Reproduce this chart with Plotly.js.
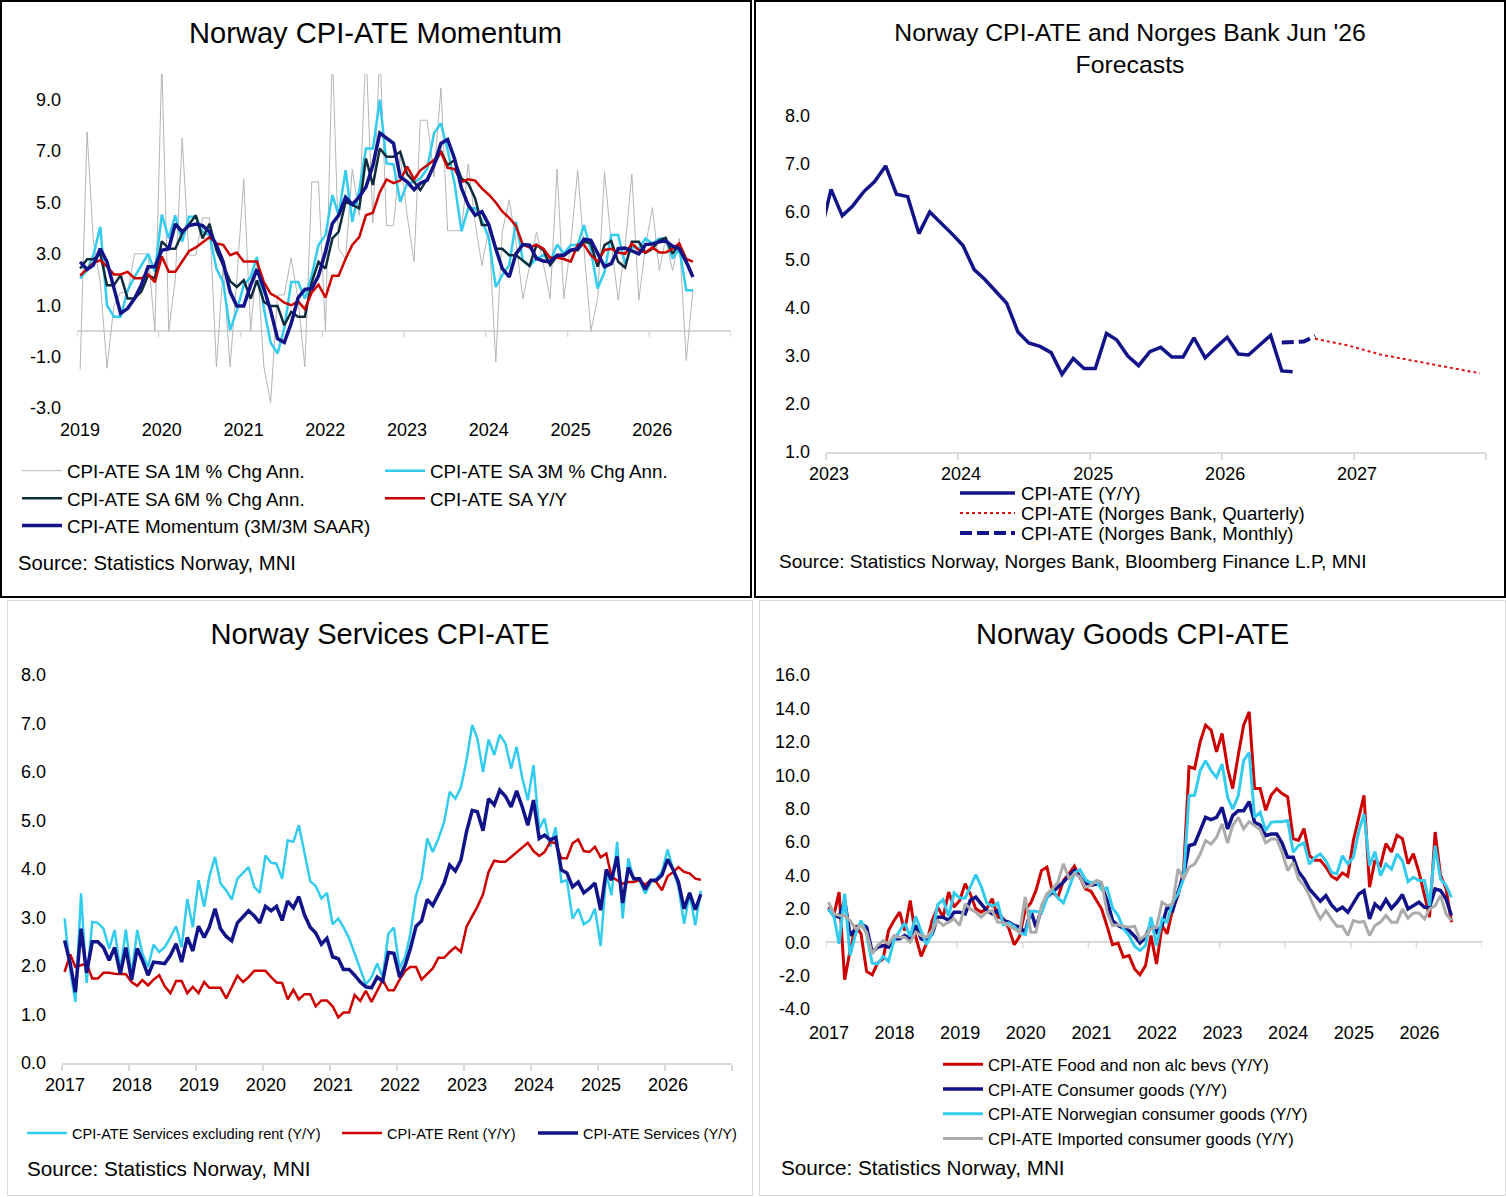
<!DOCTYPE html>
<html><head><meta charset="utf-8">
<script src="https://cdn.plot.ly/plotly-3.0.1.min.js"></script>
<style>
html,body{margin:0;padding:0;background:#fff;}
body{width:1506px;height:1197px;position:relative;overflow:hidden;}
.plot{position:absolute;}
.frame{position:absolute;box-sizing:border-box;pointer-events:none;z-index:10;}
</style></head><body>
<div id="p1" class="plot" style="left:0px;top:0px;width:751px;height:597px"></div>
<div id="p2" class="plot" style="left:754px;top:0px;width:752px;height:597px"></div>
<div id="p3" class="plot" style="left:7px;top:600px;width:746px;height:597px"></div>
<div id="p4" class="plot" style="left:759px;top:600px;width:747px;height:597px"></div>
<div class="frame" style="left:0px;top:0px;width:752px;height:598px;border:2px solid #000"></div>
<div class="frame" style="left:754px;top:0px;width:752px;height:598px;border:2px solid #000"></div>
<div class="frame" style="left:7px;top:600px;width:746px;height:596px;border:1.5px solid #d9d9d9"></div>
<div class="frame" style="left:759px;top:600px;width:747px;height:596px;border:1.5px solid #d9d9d9"></div>
<script>
// ---------------- DATA ----------------
// Panel 1: Norway CPI-ATE Momentum (monthly from 2019-01)
const p1Start = [2019, 1];
const p1OneMonth = [-1.5, 7.75, 3.5, 1.9, -1.45, 1.0, 1.5, 1.5, 3.0, 3.0, 3.0, 0.0, 10.5, 0.0, 2.0, 7.5, 2.95, 2.95, 4.4, 4.4,
  -1.4, 2.5, -1.4, 2.0, 5.9, 0.0, 2.85, -1.4, -2.8, 1.4, 1.4, 2.85, 1.2, -1.4, 5.8, 5.8, 0.0, 11.0, 3.2, 2.8,
  6.3, 4.5, 11.0, 4.2, 11.0, 4.1, 4.1, 6.85, 4.5, 2.7, 8.2, 8.2, 6.0, 9.45, 3.9, 3.9, 3.9, 6.5, 4.2, 2.55,
  4.0, -1.2, 3.85, 5.1, 3.5, 1.25, 2.6, 3.85, 2.6, 1.25, 6.3, 1.25, 3.4, 6.25, 3.2, 0.0, 1.25, 6.2, 3.4, 1.2,
  3.3, 6.1, 1.2, 3.3, 4.8, 2.35, 3.6, 2.35, 3.6, -1.15, 1.6];
const p1ThreeMonth = [2.04, 2.36, 2.95, 4.05, 1.0, 0.55, 0.55, 1.58, 2.1, 2.56, 3.0, 2.3, 4.53, 3.6, 4.5, 3.47, 4.44, 4.44, 3.86, 3.73,
  2.43, 1.9, 0.03, 0.8, 1.78, 2.1, 2.88, 0.87, -0.45, -0.88, 0.09, 1.9, 1.9, 1.26, 2.17, 3.34, 3.73, 5.29, 4.5, 6.26,
  4.25, 5.48, 7.1, 7.1, 9.0, 6.52, 6.48, 5.03, 5.74, 5.8, 5.93, 6.32, 7.69, 8.08, 7.04, 5.74, 3.88, 4.77, 4.77, 4.31,
  3.6, 1.71, 2.17, 2.56, 4.25, 2.75, 2.53, 2.82, 2.95, 2.69, 3.36, 3.0, 3.34, 3.34, 4.12, 3.14, 1.65, 2.3, 3.73, 3.73,
  2.62, 3.27, 3.2, 3.6, 3.4, 3.6, 3.6, 2.82, 3.2, 1.58, 1.58];
const p1SixMonth = [2.43, 2.79, 2.79, 3.0, 1.78, 1.78, 2.17, 1.26, 1.26, 1.52, 2.17, 2.04, 3.49, 3.2, 3.2, 3.79, 4.14, 4.5, 3.6, 4.17,
  3.14, 2.56, 1.94, 1.71, 1.97, 1.26, 1.97, 1.13, 0.97, 0.97, 0.22, 0.74, 0.55, 0.55, 1.9, 2.69, 2.43, 3.6, 3.86, 5.03,
  4.9, 4.77, 6.71, 5.68, 7.1, 6.78, 6.78, 6.97, 6.1, 5.8, 5.48, 5.93, 6.45, 7.0, 6.45, 6.65, 5.93, 5.74, 5.16, 4.12,
  4.12, 3.2, 3.2, 2.95, 2.95, 2.75, 2.53, 3.34, 3.14, 2.56, 2.92, 2.92, 3.14, 3.14, 3.47, 3.4, 2.5, 3.34, 3.5, 2.69,
  2.47, 3.47, 3.47, 3.04, 3.2, 3.53, 3.62, 3.0, 3.4];
const p1YoY = [2.15, 2.4, 2.65, 2.75, 2.5, 2.2, 2.2, 2.3, 2.05, 2.05, 2.2, 1.9, 2.9, 2.3, 2.3, 2.7, 3.1, 3.25, 3.45, 3.65,
  3.4, 3.35, 2.95, 3.05, 2.7, 2.7, 2.7, 1.9, 1.45, 1.3, 1.1, 1.0, 1.15, 0.85, 1.5, 1.8, 1.3, 2.15, 2.15, 2.8,
  3.35, 3.65, 4.5, 4.6, 5.4, 5.9, 5.75, 5.85, 6.4, 5.9, 6.25, 6.45, 6.65, 6.95, 6.35, 6.3, 5.8, 5.9, 5.85, 5.55,
  5.3, 5.0, 4.65, 4.4, 4.1, 3.35, 3.25, 3.35, 3.2, 2.85, 2.85, 2.8, 2.7, 3.35, 3.35, 2.95, 2.7, 3.15, 3.2, 3.05,
  3.0, 3.4, 3.15, 3.05, 3.25, 3.05, 3.05, 3.2, 3.4, 2.8, 2.7];
const p1Momentum = [2.69, 2.39, 2.56, 3.2, 2.69, 1.65, 0.68, 0.87, 1.26, 1.78, 2.5, 2.5, 3.14, 3.2, 4.16, 3.86, 4.1, 4.16, 4.1, 3.86,
  3.34, 2.69, 1.52, 0.97, 0.97, 1.78, 2.4, 1.65, 0.8, -0.3, -0.45, 0.29, 1.29, 1.62, 1.65, 2.14, 3.08, 4.18, 4.5, 5.2,
  4.92, 5.22, 5.6, 6.45, 7.7, 7.5, 7.3, 6.0, 5.8, 5.5, 5.75, 5.87, 6.45, 7.3, 7.45, 6.7, 5.55, 4.9, 4.5, 4.64,
  4.14, 3.2, 2.43, 2.1, 3.0, 3.36, 3.34, 2.82, 2.72, 2.69, 2.95, 2.95, 3.14, 3.2, 3.57, 3.53, 3.0, 2.5, 2.62, 3.2,
  3.23, 3.1, 3.0, 3.36, 3.38, 3.47, 3.5, 3.3, 3.2, 2.69, 2.1];
const p1YearTicks = ['2019','2020','2021','2022','2023','2024','2025','2026','2027'];
const p1YearLabels = ['2019','2020','2021','2022','2023','2024','2025','2026',''];
const p1YTicks = [-3, -1, 1, 3, 5, 7, 9];
const p1YLabels = ['-3.0','-1.0','1.0','3.0','5.0','7.0','9.0'];

// Panel 2: CPI-ATE and Norges Bank forecasts
const p2Start = [2022, 12];
const p2Actual = [5.5, 6.47, 5.92, 6.12, 6.42, 6.63, 6.96, 6.37, 6.32, 5.55, 6.0, 5.78, 5.55, 5.3, 4.8, 4.6, 4.34, 4.1, 3.5, 3.27,
  3.2, 3.07, 2.62, 2.95, 2.74, 2.74, 3.47, 3.34, 3.0, 2.8, 3.09, 3.18, 2.98, 2.98, 3.38, 2.96, 3.18, 3.39, 3.04, 3.02,
  3.23, 3.43, 2.69, 2.67];
const p2MonthlyDates = ['2026-06-15','2026-07-15','2026-08-15','2026-09-15'];
const p2Monthly = [3.28, 3.28, 3.30, 3.42];
const p2QuarterDates = ['2026-09-15','2026-12-15','2027-03-15','2027-06-15','2027-09-15','2027-12-15'];
const p2Quarterly = [3.36, 3.22, 3.03, 2.90, 2.78, 2.64];
const p2YearTicks = ['2023','2024','2025','2026','2027','2028'];
const p2YearLabels = ['2023','2024','2025','2026','2027',''];
const p2YTicks = [1, 2, 3, 4, 5, 6, 7, 8];
const p2YLabels = ['1.0','2.0','3.0','4.0','5.0','6.0','7.0','8.0'];

// Panel 3: Services CPI-ATE (monthly from 2017-01)
const p3Start = [2017, 1];
const p3ServExRent = [2.98, 1.9, 1.26, 3.5, 1.65, 2.91, 2.89, 2.77, 2.36, 2.74, 1.91, 2.75, 1.81, 2.74, 2.26, 1.98, 2.44, 2.29, 2.39, 2.59,
  2.82, 2.39, 3.38, 2.8, 3.77, 3.22, 3.84, 4.25, 3.7, 3.56, 3.37, 3.8, 3.92, 4.04, 3.63, 3.51, 4.28, 4.13, 4.11, 3.8,
  4.59, 4.56, 4.9, 4.32, 3.75, 3.65, 3.39, 3.51, 2.86, 2.98, 2.8, 2.57, 2.26, 1.95, 1.62, 1.77, 2.05, 1.77, 2.67, 2.79,
  1.95, 2.19, 2.67, 3.46, 3.8, 4.63, 4.35, 4.63, 4.97, 5.59, 5.45, 5.68, 6.24, 6.97, 6.69, 6.0, 6.67, 6.35, 6.77, 6.59,
  6.07, 6.52, 5.87, 5.42, 6.14, 4.83, 5.04, 4.46, 4.86, 3.73, 3.77, 2.98, 3.18, 2.86, 2.94, 3.18, 2.41, 3.91, 3.46, 4.56,
  2.98, 4.22, 3.77, 3.77, 3.49, 3.73, 3.8, 3.94, 4.4, 3.97, 3.63, 2.87, 3.49, 2.84, 3.55];
const p3Rent = [1.88, 2.24, 1.98, 2.02, 2.05, 1.74, 1.74, 1.86, 1.86, 1.84, 1.83, 1.83, 1.67, 1.59, 1.71, 1.6, 1.72, 1.81, 1.58, 1.44,
  1.69, 1.69, 1.44, 1.57, 1.44, 1.67, 1.55, 1.55, 1.55, 1.33, 1.57, 1.8, 1.67, 1.77, 1.9, 1.9, 1.9, 1.77, 1.66, 1.65,
  1.31, 1.51, 1.31, 1.42, 1.42, 1.17, 1.29, 1.29, 1.17, 0.94, 1.04, 1.04, 1.4, 1.28, 1.49, 1.26, 1.49, 1.71, 1.5, 1.5,
  1.72, 1.9, 1.98, 1.98, 1.72, 1.83, 1.95, 2.17, 2.17, 2.29, 2.39, 2.29, 2.81, 3.03, 3.22, 3.48, 3.94, 4.17, 4.15, 4.15,
  4.25, 4.35, 4.46, 4.54, 4.37, 4.27, 4.35, 4.56, 4.53, 4.22, 4.22, 4.53, 4.61, 4.37, 4.35, 4.46, 4.24, 4.32, 3.84, 3.77,
  3.7, 3.73, 3.73, 3.77, 3.67, 3.77, 3.73, 3.56, 3.85, 3.94, 4.04, 3.94, 3.91, 3.8, 3.78];
const p3Services = [2.53, 2.05, 1.46, 2.77, 1.86, 2.5, 2.5, 2.38, 2.12, 2.38, 1.84, 2.38, 1.71, 2.36, 2.12, 1.81, 2.08, 2.07, 2.05, 2.22,
  2.46, 2.08, 2.59, 2.31, 2.82, 2.59, 2.8, 3.18, 2.77, 2.61, 2.52, 2.89, 3.01, 3.14, 3.03, 2.89, 3.23, 3.14, 3.23, 2.94,
  3.34, 3.2, 3.43, 3.05, 2.8, 2.68, 2.45, 2.57, 2.19, 2.15, 1.93, 1.93, 1.81, 1.67, 1.57, 1.55, 1.77, 1.69, 2.28, 2.26,
  1.77, 2.02, 2.36, 2.82, 2.93, 3.37, 3.25, 3.48, 3.71, 4.08, 3.96, 4.18, 4.77, 5.21, 5.18, 4.79, 5.45, 5.32, 5.63, 5.5,
  5.28, 5.61, 5.28, 4.9, 5.42, 4.63, 4.7, 4.6, 4.65, 3.98, 3.92, 3.63, 3.73, 3.51, 3.6, 3.71, 3.15, 3.99, 3.77, 4.26,
  3.3, 4.03, 3.8, 3.8, 3.58, 3.77, 3.77, 3.87, 4.2, 3.98, 3.73, 3.18, 3.51, 3.16, 3.48];
const p3YearTicks = ['2017','2018','2019','2020','2021','2022','2023','2024','2025','2026','2027'];
const p3YearLabels = ['2017','2018','2019','2020','2021','2022','2023','2024','2025','2026',''];
const p3YTicks = [0, 1, 2, 3, 4, 5, 6, 7, 8];
const p3YLabels = ['0.0','1.0','2.0','3.0','4.0','5.0','6.0','7.0','8.0'];

// Panel 4: Goods CPI-ATE (monthly from 2017-01)
const p4Start = [2017, 1];
const p4Food = [2.1, 1.7, 3.0, -2.25, -0.5, 1.0, 0.5, -1.75, -1.95, -1.25, -1.0, 0.7, 1.3, 1.8, 0.7, 2.5, 0.35, -0.85, -0.05, 1.3,
  2.1, 1.5, 3.0, 2.1, 2.5, 3.5, 2.9, 2.0, 1.8, 2.0, 2.6, 1.5, 1.4, 0.85, -0.15, 0.35, 1.95, 2.35, 3.1, 4.3,
  4.5, 3.0, 2.7, 3.7, 4.1, 4.55, 3.9, 3.2, 3.05, 2.5, 2.0, 0.95, -0.15, -0.05, -0.9, -0.8, -1.6, -1.95, -1.4, 0.4,
  -1.3, 1.0, 0.5, 2.0, 2.8, 4.3, 10.5, 10.4, 12.0, 13.0, 12.7, 11.4, 12.5, 10.4, 9.2, 11.2, 13.0, 13.8, 9.2, 9.2,
  7.9, 8.8, 9.2, 8.9, 8.7, 6.2, 6.1, 6.8, 5.2, 4.9, 4.9, 4.5, 3.95, 3.75, 4.15, 3.95, 6.1, 7.5, 8.8, 3.3,
  4.9, 4.6, 5.9, 5.4, 6.4, 6.2, 4.7, 5.3, 4.2, 2.8, 1.5, 6.6, 4.0, 3.2, 1.2];
const p4Consumer = [2.0, 1.6, 1.5, 2.5, 0.4, 0.8, 1.1, 0.9, -0.6, -0.3, -0.2, -0.3, 0.2, 0.2, 0.4, 0.2, 1.0, 0.2, 0.1, 0.5,
  1.5, 1.5, 1.3, 1.8, 1.8, 1.7, 2.5, 2.7, 2.3, 1.9, 1.7, 1.9, 1.3, 1.2, 1.0, 0.9, 0.6, 1.9, 0.9, 2.0,
  2.7, 3.0, 3.3, 3.6, 4.0, 4.3, 3.9, 3.5, 3.4, 3.5, 3.4, 2.5, 1.3, 1.0, 0.84, 0.7, 0.36, -0.04, 0.3, 1.1,
  0.6, 1.0, 2.1, 1.9, 3.0, 4.0, 5.78, 5.88, 6.68, 7.48, 7.34, 7.48, 8.07, 6.78, 7.58, 7.87, 7.87, 8.41, 7.18, 7.02,
  6.38, 6.48, 6.48, 5.94, 5.08, 5.08, 4.23, 3.79, 3.19, 2.79, 2.45, 2.79, 2.23, 1.89, 2.09, 1.79, 2.39, 2.89, 3.09, 1.4,
  2.29, 1.99, 2.55, 2.03, 2.39, 2.85, 1.99, 2.19, 2.39, 2.09, 2.09, 3.19, 3.09, 2.59, 1.6];
const p4Norwegian = [2.0, 1.5, -0.1, 2.9, -0.8, 0.5, 1.3, 0.5, -1.25, -1.3, -0.85, -1.15, 0.15, 0.65, 1.15, 0.35, 1.55, 0.65, -0.15, 0.55,
  2.25, 2.55, 1.55, 2.95, 2.65, 2.65, 3.35, 4.05, 3.35, 2.35, 2.15, 2.35, 1.05, 1.15, 0.95, 0.55, 0.45, 1.85, 1.85, 1.75,
  2.65, 3.15, 2.65, 2.35, 3.25, 4.15, 4.35, 3.75, 3.55, 3.65, 3.15, 3.25, 2.05, 1.6, 0.8, 0.4, -0.24, -0.5, -0.2, 1.5,
  -0.2, 1.4, 1.2, 2.4, 2.9, 3.8, 8.77, 8.8, 10.27, 10.87, 10.27, 9.87, 10.67, 8.67, 7.97, 8.77, 10.87, 11.36, 7.48, 7.78,
  6.68, 7.18, 7.22, 7.22, 7.28, 5.38, 5.78, 5.94, 4.68, 5.08, 5.28, 4.88, 4.19, 4.09, 5.18, 4.68, 5.08, 6.68, 7.68, 4.58,
  5.42, 3.99, 4.68, 4.38, 5.28, 4.88, 3.63, 3.89, 3.69, 3.69, 2.19, 5.78, 3.79, 3.39, 2.69];
const p4Imported = [2.4, 1.7, 1.6, 1.6, 1.3, 0.8, 1.0, 0.6, -0.7, -0.2, 0.1, -0.1, 0.4, 0.3, 0.3, 0.0, 0.6, 0.4, 0.3, 0.7,
  1.3, 1.0, 1.2, 1.4, 1.0, 2.3, 2.0, 1.8, 1.5, 1.8, 1.9, 1.2, 1.2, 1.0, 0.8, 0.6, 2.7, 0.6, 0.6, 2.2,
  2.9, 3.2, 3.6, 4.7, 3.8, 4.1, 3.9, 3.3, 3.4, 3.7, 3.6, 1.8, 1.0, 1.04, 0.95, 0.9, 0.96, 0.16, 0.4, 0.8,
  0.9, 2.39, 2.19, 2.29, 4.39, 3.79, 4.49, 4.68, 5.28, 6.08, 5.88, 6.28, 7.08, 5.94, 6.98, 7.48, 6.78, 7.22, 6.98, 6.74,
  5.94, 6.18, 6.18, 5.38, 4.29, 4.78, 3.79, 3.39, 2.79, 1.99, 1.4, 1.89, 1.4, 0.96, 0.96, 0.4, 1.3, 1.2, 1.24, 0.4,
  1.0, 1.2, 1.6, 1.2, 1.2, 1.99, 1.44, 1.75, 1.75, 1.4, 1.99, 2.19, 2.79, 1.69, 1.3];
const p4YearTicks = ['2017','2018','2019','2020','2021','2022','2023','2024','2025','2026','2027'];
const p4YearLabels = ['2017','2018','2019','2020','2021','2022','2023','2024','2025','2026',''];
const p4YTicks = [-4, -2, 0, 2, 4, 6, 8, 10, 12, 14, 16];
const p4YLabels = ['-4.0','-2.0','0.0','2.0','4.0','6.0','8.0','10.0','12.0','14.0','16.0'];

// ---------------- HELPERS ----------------
const FONT = "'Liberation Sans', Arial, Helvetica, sans-serif";
const C = {gray1:'#b5b5b5', light:'#33ccee', dark:'#0f2b3c', red:'#cc0000', navy:'#131389', gray2:'#ababab', axis:'#d9d9d9'};

function monthDates(start, n) {
  const out = [];
  for (let i = 0; i < n; i++) {
    const t = start[1] - 1 + i;
    const y = start[0] + Math.floor(t / 12);
    const m = (t % 12) + 1;
    out.push(y + '-' + String(m).padStart(2, '0') + '-15');
  }
  return out;
}
function yearDates(years) { return years.map(y => y + '-01-01'); }
function geom(W, H, l, r, t, b) {
  const w = W - l - r, h = H - t - b;
  return {W, H, l, r, t, b, w, h, px: x => (x - l) / w, py: y => 1 - (y - t) / h};
}
function line(x, y, name, color, width, extra) {
  return Object.assign({type:'scatter', mode:'lines', x, y, name,
    line:{color, width}, hoverinfo:'skip'}, extra || {});
}
function baseLayout(g, title, tsize, ty) {
  return {
    width:g.W, height:g.H, margin:{l:g.l, r:g.r, t:g.t, b:g.b, pad:0},
    paper_bgcolor:'rgba(0,0,0,0)', plot_bgcolor:'rgba(0,0,0,0)',
    font:{family:FONT, color:'#000', size:18},
    title:{text:title, font:{family:FONT, size:tsize, color:'#000'}, x:0.5, xref:'container', xanchor:'center',
      y:1 - ty / g.H, yref:'container', yanchor:'middle'},
    annotations:[], shapes:[]
  };
}
function xAxis(range, years, labels, withLine, standoff) {
  const ax = {type:'date', range, tickvals:yearDates(years), ticktext:labels, tickmode:'array',
    showgrid:false, zeroline:false, tickfont:{family:FONT, size:18, color:'#000'}, fixedrange:true,
    ticklabelshift:3, ticklabelstandoff:standoff};
  if (withLine) {
    Object.assign(ax, {showline:true, linecolor:C.axis, linewidth:2, ticks:'outside', ticklen:6, tickcolor:C.axis, tickwidth:1.5});
  } else {
    Object.assign(ax, {showline:false, ticks:''});
  }
  return ax;
}
function yAxis(range, vals, labels, zero) {
  return {range, tickvals:vals, ticktext:labels, tickmode:'array', showgrid:false, showline:false, ticks:'',
    zeroline:!!zero, zerolinecolor:C.axis, zerolinewidth:2, ticklabelstandoff:15,
    tickfont:{family:FONT, size:18, color:'#000'}, fixedrange:true};
}
function zeroTicks(years) {
  return yearDates(years).map(d => ({type:'line', xref:'x', yref:'y', ysizemode:'pixel', yanchor:0,
    x0:d, x1:d, y0:0, y1:-6, line:{color:C.axis, width:1.5}, layer:'below'}));
}
function source(g, text, x, y, size) {
  return {text, xref:'paper', yref:'paper', x:g.px(x), y:g.py(y), xanchor:'left', yanchor:'middle',
    showarrow:false, font:{family:FONT, size, color:'#000'}};
}
const cfg = {staticPlot:true, displayModeBar:false};

// ---------------- PANEL 1 ----------------
(function(){
  const g = geom(751, 597, 77, 20, 74, 189);
  const d = monthDates(p1Start, p1Momentum.length);
  const traces = [
    line(d, p1OneMonth, 'CPI-ATE SA 1M % Chg Ann.', C.gray1, 1),
    line(d, p1ThreeMonth, 'CPI-ATE SA 3M % Chg Ann.', C.light, 2.5),
    line(d.slice(0, p1SixMonth.length), p1SixMonth, 'CPI-ATE SA 6M % Chg Ann.', C.dark, 2.5),
    line(d, p1YoY, 'CPI-ATE SA Y/Y', C.red, 2.5),
    line(d, p1Momentum, 'CPI-ATE Momentum (3M/3M SAAR)', C.navy, 3.5)
  ];
  const L = baseLayout(g, 'Norway CPI-ATE Momentum', 29.1, 33);
  L.xaxis = xAxis(['2019-01-01','2027-01-01'], p1YearTicks, p1YearLabels, false, 9);
  L.yaxis = yAxis([-3, 10], p1YTicks, p1YLabels, true);
  L.shapes = zeroTicks(p1YearTicks);
  L.showlegend = true;
  L.legend = {orientation:'h', x:g.px(17), xanchor:'left', y:g.py(452), yanchor:'top', entrywidth:308, entrywidthmode:'pixels',
    itemwidth:40, bgcolor:'rgba(0,0,0,0)', borderwidth:0, traceorder:'normal', font:{family:FONT, size:18.8, color:'#000'}};
  L.annotations = [source(g, 'Source: Statistics Norway, MNI', 16, 563, 20.3)];
  Plotly.newPlot('p1', traces, L, cfg);
})();

// ---------------- PANEL 2 ----------------
(function(){
  const g = geom(752, 597, 72, 20, 116, 145);
  const d = monthDates(p2Start, p2Actual.length);
  const traces = [
    line(d, p2Actual, 'CPI-ATE (Y/Y)', C.navy, 3.5, {showlegend:false}),
    line(p2QuarterDates, p2Quarterly, 'CPI-ATE (Norges Bank, Quarterly)', '#e01010', 2, {showlegend:false, line:{color:'#e01010', width:2, dash:'dot'}}),
    line(p2MonthlyDates, p2Monthly, 'CPI-ATE (Norges Bank, Monthly)', C.navy, 4, {showlegend:false, line:{color:C.navy, width:4, dash:'12px,5px'}})
  ];
  const L = baseLayout(g, "Norway CPI-ATE and Norges Bank Jun '26<br>Forecasts", 24.8, 40.5);
  L.xaxis = xAxis(['2023-01-01','2028-01-01'], p2YearTicks, p2YearLabels, true, -2);
  L.yaxis = yAxis([1, 8], p2YTicks, p2YLabels, false);
  L.showlegend = false;
  const legendItems = [
    {name:'CPI-ATE (Y/Y)', color:C.navy, width:3.5, dash:'solid', y:493},
    {name:'CPI-ATE (Norges Bank, Quarterly)', color:'#e01010', width:2, dash:'dot', y:513},
    {name:'CPI-ATE (Norges Bank, Monthly)', color:C.navy, width:4, dash:'12px,5px', y:533}
  ];
  legendItems.forEach(it => {
    L.shapes.push({type:'line', xref:'paper', yref:'paper', x0:g.px(206), x1:g.px(261), y0:g.py(it.y), y1:g.py(it.y),
      line:{color:it.color, width:it.width, dash:it.dash}});
    L.annotations.push({text:it.name, xref:'paper', yref:'paper', x:g.px(265), y:g.py(it.y), xanchor:'left', yanchor:'middle',
      showarrow:false, font:{family:FONT, size:18.6, color:'#000'}});
  });
  L.annotations.push(source(g, 'Source: Statistics Norway, Norges Bank, Bloomberg Finance L.P, MNI', 23, 561, 19));
  Plotly.newPlot('p2', traces, L, cfg);
})();

// ---------------- PANEL 3 ----------------
(function(){
  const g = geom(746, 597, 55, 21, 75, 134);
  const d = monthDates(p3Start, p3Services.length);
  const traces = [
    line(d, p3ServExRent, 'CPI-ATE Services excluding rent (Y/Y)', C.light, 2.5, {legendwidth:260}),
    line(d, p3Rent, 'CPI-ATE Rent (Y/Y)', C.red, 2.5, {legendwidth:141}),
    line(d, p3Services, 'CPI-ATE Services (Y/Y)', C.navy, 3.5)
  ];
  const L = baseLayout(g, 'Norway Services CPI-ATE', 29.1, 34);
  L.xaxis = xAxis(['2017-01-01','2027-01-01'], p3YearTicks, p3YearLabels, true, -2);
  L.yaxis = yAxis([0, 8], p3YTicks, p3YLabels, false);
  L.showlegend = true;
  L.legend = {orientation:'h', x:g.px(15), xanchor:'left', y:g.py(517), yanchor:'top', itemwidth:40,
    bgcolor:'rgba(0,0,0,0)', borderwidth:0, traceorder:'normal', font:{family:FONT, size:14.6, color:'#000'}};
  L.annotations = [source(g, 'Source: Statistics Norway, MNI', 18, 568, 20.7)];
  Plotly.newPlot('p3', traces, L, cfg);
})();

// ---------------- PANEL 4 ----------------
(function(){
  const g = geom(747, 597, 67, 24, 75, 188);
  const d = monthDates(p4Start, p4Food.length);
  const traces = [
    line(d, p4Food, 'CPI-ATE Food and non alc bevs (Y/Y)', C.red, 3),
    line(d, p4Consumer, 'CPI-ATE Consumer goods (Y/Y)', C.navy, 3.5),
    line(d, p4Norwegian, 'CPI-ATE Norwegian consumer goods (Y/Y)', C.light, 3),
    line(d, p4Imported, 'CPI-ATE Imported consumer goods (Y/Y)', C.gray2, 3)
  ];
  const L = baseLayout(g, 'Norway Goods CPI-ATE', 29.1, 34);
  L.xaxis = xAxis(['2017-01-01','2027-01-01'], p4YearTicks, p4YearLabels, false, 11);
  L.yaxis = yAxis([-4, 16], p4YTicks, p4YLabels, true);
  L.shapes = zeroTicks(p4YearTicks);
  L.showlegend = true;
  L.legend = {orientation:'v', x:g.px(179), xanchor:'left', y:g.py(447), yanchor:'top', itemwidth:40,
    bgcolor:'rgba(0,0,0,0)', borderwidth:0, traceorder:'normal', font:{family:FONT, size:16.7, color:'#000'}};
  L.annotations = [source(g, 'Source: Statistics Norway, MNI', 20, 567, 20.7)];
  Plotly.newPlot('p4', traces, L, cfg);
})();
</script>
</body></html>
